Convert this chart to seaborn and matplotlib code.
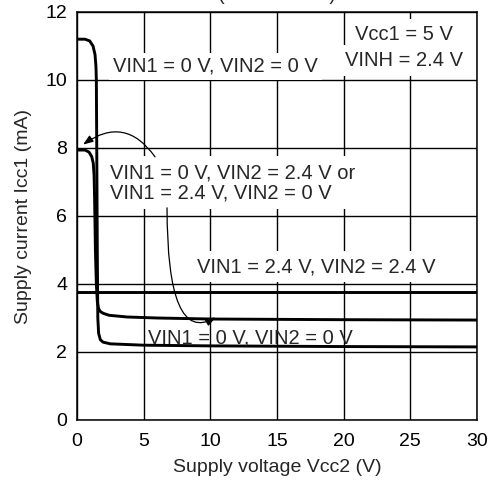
import pandas as pd
import matplotlib
matplotlib.use("Agg")
import matplotlib.pyplot as plt
import seaborn as sns

# curve readings (Vcc2 in V, Icc1 in mA)
vcc2_00 = [0, 0.6, 0.95, 1.2, 1.35, 1.42, 1.45, 1.48, 1.52, 1.56, 1.62, 1.75,
           1.95, 2.5, 5, 10, 20, 30]
icc1_00 = [11.2, 11.2, 11.15, 11.0, 10.75, 10.4, 10.0, 8.0, 5.0, 3.0, 2.55,
           2.36, 2.29, 2.24, 2.2, 2.18, 2.16, 2.15]

vcc2_mixed = [0, 0.6, 0.9, 1.1, 1.22, 1.28, 1.32, 1.38, 1.45, 1.52, 1.6, 1.72,
              1.95, 2.4, 3.75, 6, 10, 20, 30]
icc1_mixed = [7.94, 7.94, 7.88, 7.75, 7.55, 7.2, 6.5, 5.0, 4.0, 3.5, 3.3, 3.2,
              3.14, 3.08, 3.03, 3.0, 2.97, 2.95, 2.94]

vcc2_high = [0, 5, 10, 20, 30]
icc1_high = [3.77, 3.77, 3.77, 3.77, 3.77]

x_ticks = [0, 5, 10, 15, 20, 25, 30]
y_ticks = [0, 2, 4, 6, 8, 10, 12]

label_00 = "VIN1 = 0 V, VIN2 = 0 V"
label_mixed = ["VIN1 = 0 V, VIN2 = 2.4 V or", "VIN1 = 2.4 V, VIN2 = 0 V"]
label_high = "VIN1 = 2.4 V, VIN2 = 2.4 V"
cond_lines = ["Vcc1 = 5 V", "VINH = 2.4 V"]

sns.set_style("white")
plt.rcParams['font.family'] = ['Liberation Sans', 'DejaVu Sans']

fig = plt.figure(figsize=(4.89, 4.80), dpi=100)
ax = fig.add_axes([0.1575, 0.125, 0.818, 0.85])

curves = [
    (vcc2_00, icc1_00),
    (vcc2_mixed, icc1_mixed),
    (vcc2_high, icc1_high),
]
for xs, ys in curves:
    df = pd.DataFrame({'vcc2': xs, 'icc1': ys})
    sns.lineplot(data=df, x='vcc2', y='icc1', color='black', lw=2.1,
                 sort=False, estimator=None, ax=ax, zorder=3)

ax.set_xlim(0, 30)
ax.set_ylim(0, 12)
ax.set_xticks(x_ticks)
ax.set_yticks(y_ticks)
ax.grid(True, color='black', lw=1.0)
ax.set_axisbelow(True)
for sp in ax.spines.values():
    sp.set_color('black')
    sp.set_linewidth(1.1)
ax.tick_params(axis='both', length=0, labelsize=14, colors='black')
ax.tick_params(axis='x', pad=9)
ax.tick_params(axis='y', pad=7)

ax.set_xlabel("Supply voltage Vcc2 (V)", fontsize=14, labelpad=7)
ax.set_ylabel("Supply current Icc1 (mA)", fontsize=14, labelpad=10)
ax.set_title("(Vcc2 − Icc1)", fontsize=14.5, pad=8.5)

fs = 14.5
white = dict(facecolor='white', edgecolor='none')

ax.text(2.7, 10.24, label_00, fontsize=fs, ha='left', va='baseline',
        bbox=dict(boxstyle='square,pad=0.2', **white), zorder=4)
ax.text(2.48, 7.55, "\n".join(label_mixed), fontsize=fs, ha='left', va='top',
        linespacing=1.05,
        bbox=dict(boxstyle='square,pad=0.35', **white), zorder=4)
ax.text(9.0, 4.35, label_high, fontsize=fs, ha='left', va='baseline',
        bbox=dict(boxstyle='square,pad=0.3', **white), zorder=4)
ax.text(5.33, 2.26, label_00, fontsize=fs, ha='left', va='baseline', zorder=4)

ax.text(24.5, 11.18, cond_lines[0], fontsize=fs, ha='center', va='baseline',
        bbox=dict(boxstyle='square,pad=0.3', **white), zorder=4)
ax.text(24.5, 10.41, cond_lines[1], fontsize=fs, ha='center', va='baseline',
        bbox=dict(boxstyle='square,pad=0.3', **white), zorder=4)

arrow = dict(arrowstyle='-|>,head_length=0.6,head_width=0.22', color='black',
             lw=0.9, shrinkA=0, shrinkB=0)
ax.annotate("", xy=(0.45, 8.1), xytext=(5.85, 7.74),
            arrowprops=dict(connectionstyle='arc3,rad=0.5', **arrow), zorder=5)
ax.annotate("", xy=(10.4, 3.02), xytext=(6.75, 6.24),
            arrowprops=dict(connectionstyle='angle3,angleA=90,angleB=30',
                            **arrow), zorder=5)

fig.savefig("out.png", dpi=100)
